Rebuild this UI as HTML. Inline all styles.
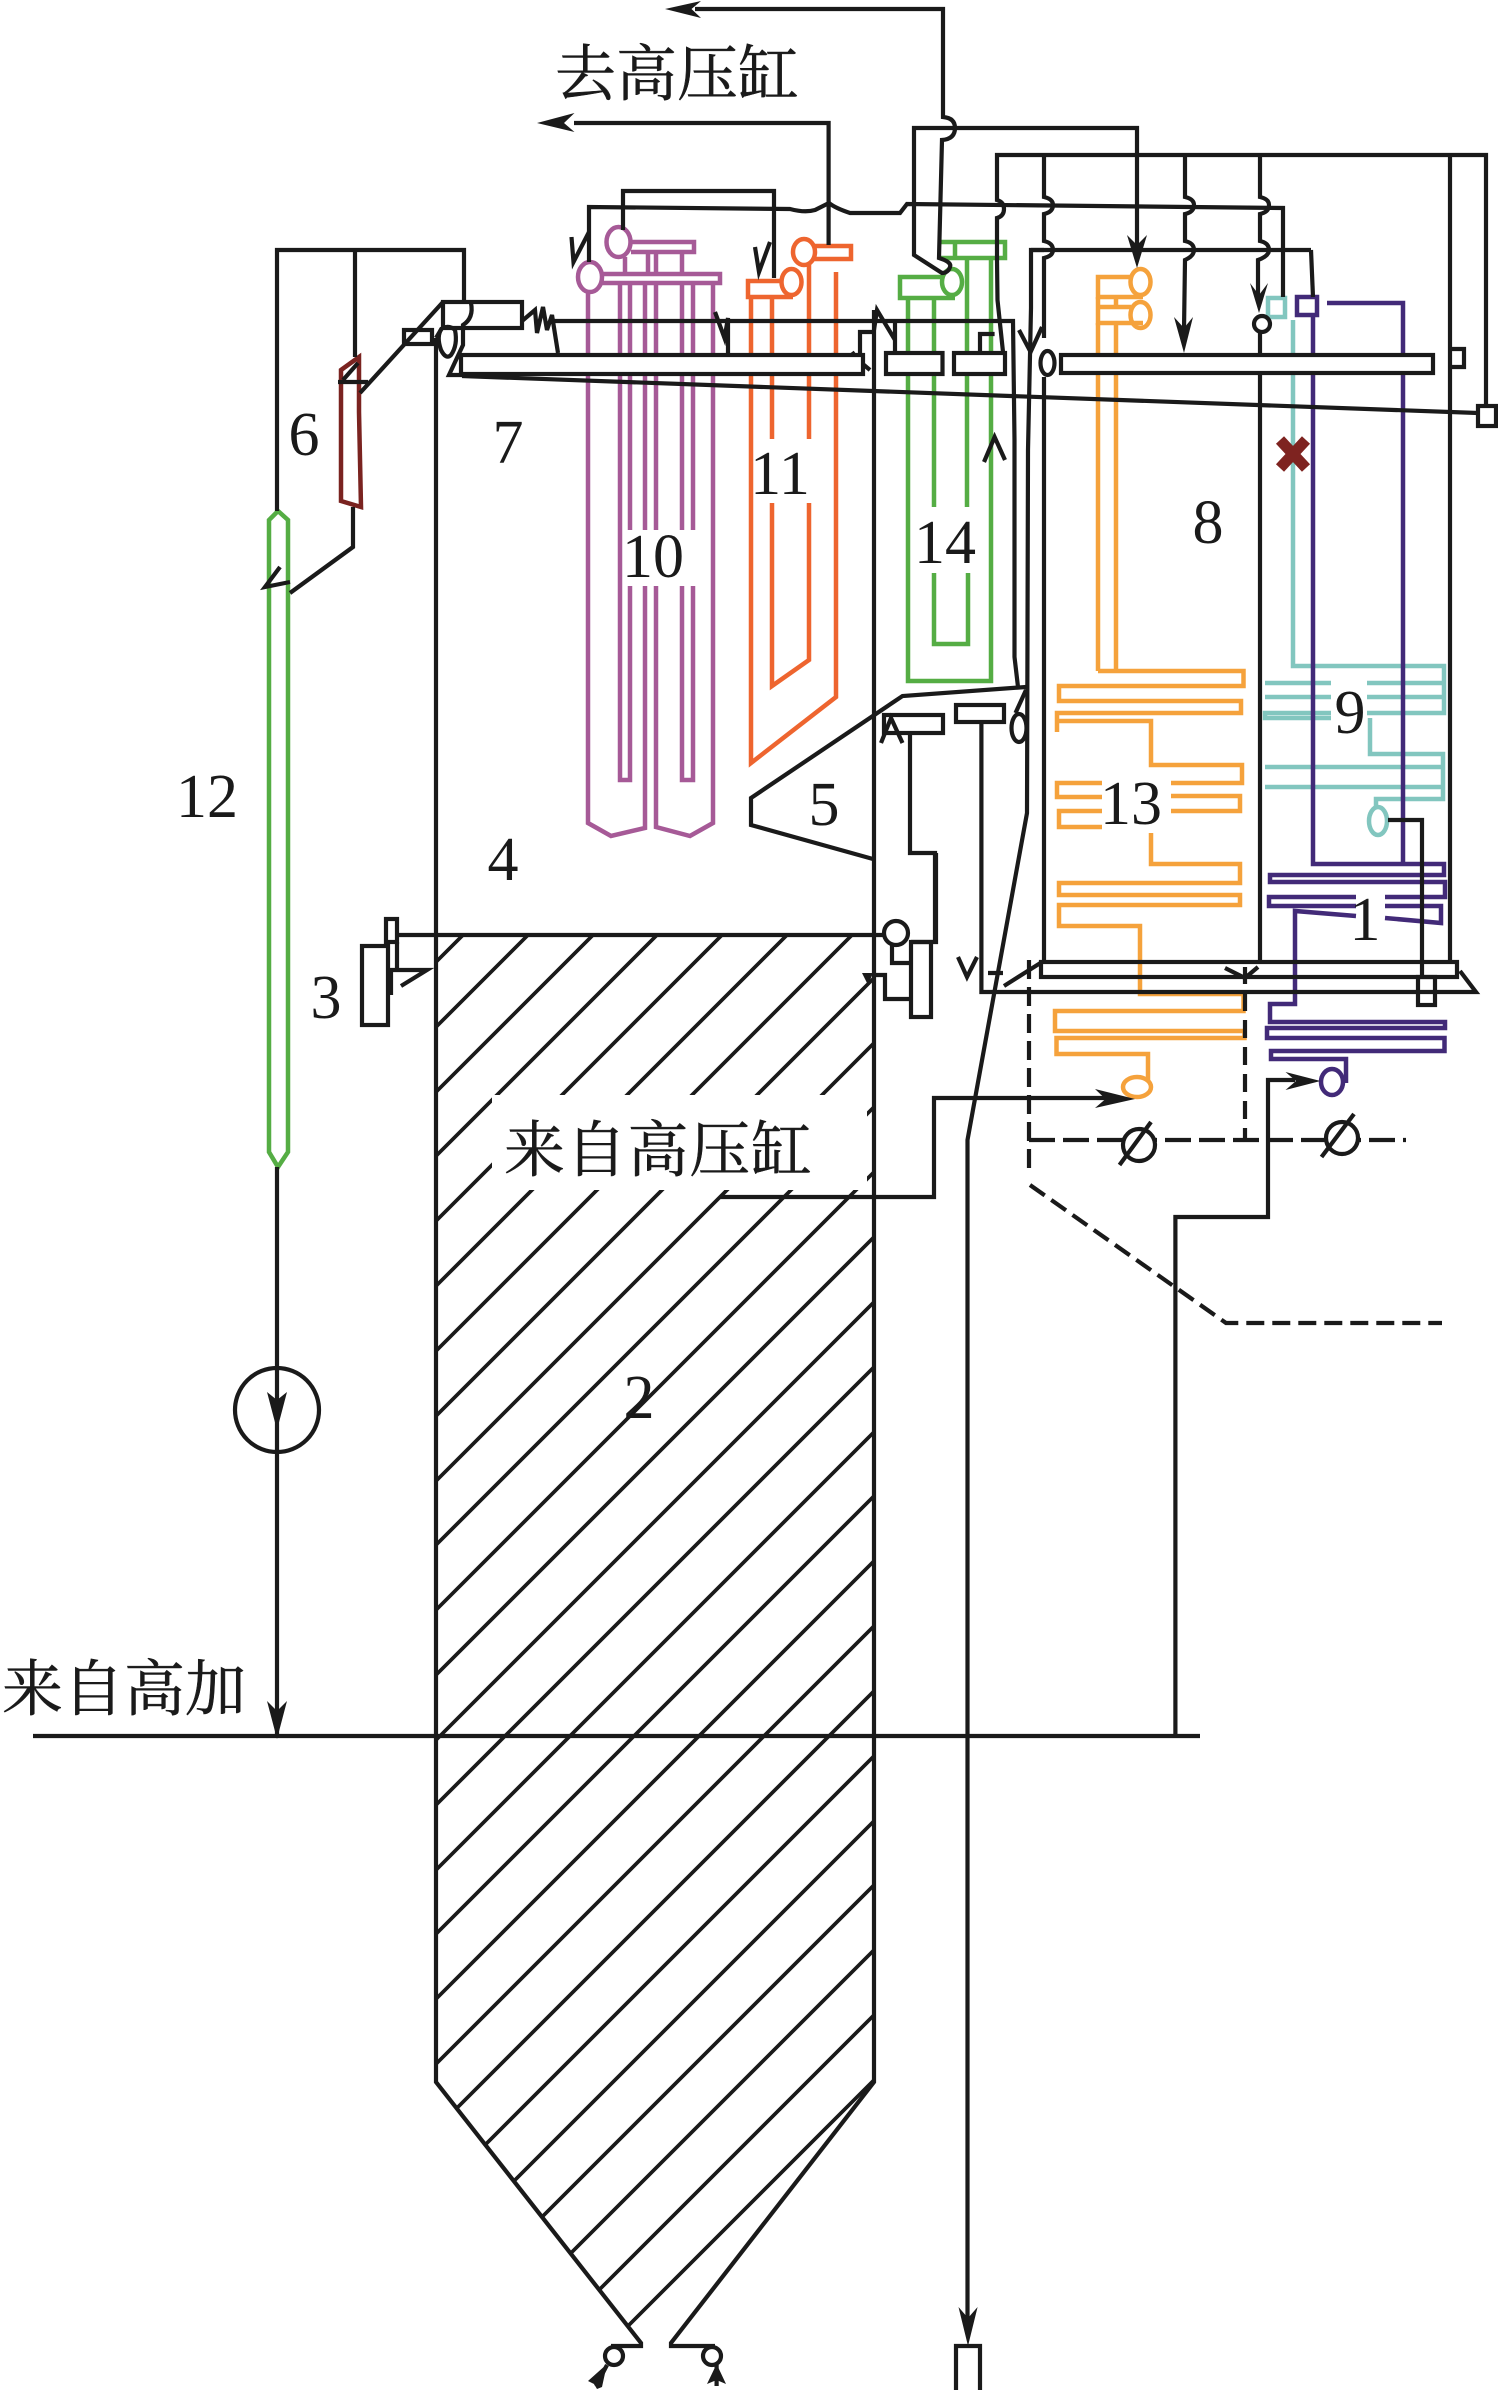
<!DOCTYPE html>
<html><head><meta charset="utf-8"><style>
html,body{margin:0;padding:0;background:#fff;width:1498px;height:2392px;overflow:hidden}
svg{display:block}
.d{font-family:"Liberation Serif",serif;font-size:62px;fill:#1a1a1a;text-anchor:middle}
.c{font-family:"Liberation Serif","Noto Serif CJK SC",serif;font-size:61px;line-height:1;fill:#1a1a1a;stroke:#1a1a1a;stroke-width:.5}
</style></head><body>
<svg xmlns="http://www.w3.org/2000/svg" width="1498" height="2392" viewBox="0 0 1498 2392" style="overflow:hidden">
<defs><clipPath id="h"><polygon points="436,935 874,935 874,2082 641,2343 436,2082"/></clipPath></defs>

<!-- hatching -->
<g clip-path="url(#h)" stroke="#1a1a1a" stroke-width="3.7" fill="none">
<path d="M436 962L874 524M436 1027L874 589M436 1092L874 654M436 1156L874 718M436 1221L874 783M436 1286L874 848M436 1351L874 913M436 1416L874 978M436 1481L874 1043M436 1545L874 1107M436 1610L874 1172M436 1675L874 1237M436 1740L874 1302M436 1805L874 1367M436 1870L874 1432M436 1934L874 1496M436 1999L874 1561M436 2064L874 1626M436 2129L874 1691M436 2194L874 1756M436 2259L874 1821M436 2323L874 1885M436 2388L874 1950M436 2453L874 2015M436 2518L874 2080"/>
</g>
<rect x="492" y="1095" width="375" height="95" fill="#fff"/>

<!-- coloured tubes -->
<g fill="none" stroke-width="4.5">
<!-- purple 10 -->
<g stroke="#a65a97">
<ellipse cx="618.5" cy="242" rx="12" ry="15"/>
<path d="M631 242H694V252H631"/>
<ellipse cx="590" cy="277" rx="12" ry="15"/>
<path d="M602 274H720V283H602"/>
<path d="M625 257V274M648 252V274M656 252V274M682 252V274"/>
<path d="M588 292V823L611 836L645 828V586M645 283V530"/>
<path d="M620 283V780H630V586M630 283V530"/>
<path d="M656 283V530M656 586V827L690 836L713 823V283"/>
<path d="M682 283V530M682 586V780H693V586M693 283V530"/>
</g>
<!-- orange 11 -->
<g stroke="#ee652f">
<ellipse cx="791.5" cy="282" rx="10" ry="13"/>
<path d="M782 281H748V297H793"/>
<ellipse cx="804" cy="252" rx="11" ry="13"/>
<path d="M814 246H851V259H814"/>
<path d="M751 298V763L836 697V272"/>
<path d="M772 298V439M772 503V686L809 660V503M809 264V439"/>
</g>
<!-- green 14 -->
<g stroke="#55ad44">
<ellipse cx="952" cy="282" rx="10" ry="13"/>
<path d="M943 277H900V298H955"/>
<path d="M940 242H1005V258H940M955 242V258"/>
<path d="M908 298V681H991V258"/>
<path d="M934 298V507M967 258V507M934 573V644H968V573"/>
<!-- 12 pod -->
<path d="M269 1152V520L278 511L288 520V1152L278 1167Z"/>
</g>
<!-- dark red 6 -->
<path d="M341 370L359 357V412L361 507L341 501Z" stroke="#7a2320"/>
<!-- yellow-orange 8 / 13 -->
<g stroke="#f5a23c">
<ellipse cx="1140.5" cy="282" rx="10" ry="13"/>
<ellipse cx="1140.5" cy="315" rx="10" ry="13"/>
<path d="M1131 277H1098V297H1143"/>
<path d="M1098 297V307H1131M1098 307V323H1143M1116 297V307"/>
<path d="M1098 323V671M1116 323V671"/>
<path d="M1098 671H1243.5V686H1059V701H1241V713H1057V732"/>
<path d="M1057 721H1151V765H1242V783H1171M1171 796H1240V811H1171"/>
<path d="M1102 783H1057V797H1102M1102 811H1059V827H1102"/>
<path d="M1151 833V864H1240V883H1059V895H1240V905H1059V926H1140V994H1243.5V1011H1055V1031H1244.5V1038H1056.5V1054H1148V1082"/>
<ellipse cx="1137" cy="1087" rx="14" ry="10"/>
</g>
<!-- teal 9 -->
<g stroke="#82c6bf">
<rect x="1268" y="298" width="17" height="19"/>
<path d="M1293 320V666H1444V713H1367M1367 697H1444M1367 683H1444"/>
<path d="M1265 683H1331M1265 697H1331M1331 713H1265V718H1331"/>
<path d="M1370 718V754H1443V799H1376V808M1265 767H1443M1265 787H1443"/>
<ellipse cx="1378" cy="821" rx="9" ry="14"/>
</g>
<!-- indigo 1 -->
<g stroke="#422a78">
<rect x="1297" y="297" width="20" height="18"/>
<path d="M1327 303H1403V864M1313 315V864H1444V875H1270V882H1445V897H1385"/>
<path d="M1356 897H1269V906H1356M1385 906H1441V923L1385 918"/>
<path d="M1356 916L1295 911V1004H1270V1022H1445V1028H1267V1038H1444.5V1051H1271V1059H1346V1083"/>
<ellipse cx="1332" cy="1082" rx="11" ry="13"/>
</g>
</g>

<!-- red cross -->
<path d="M1280 440L1306 468M1306 440L1280 468" stroke="#7e2320" stroke-width="11" fill="none"/>

<!-- black lines -->
<g fill="none" stroke="#1a1a1a" stroke-width="4.2">
<path d="M436 338V2082L641 2343V2346H611"/>
<path d="M874 310V2082L671 2343V2346H715"/>
<path d="M436 338L442 328"/>
<!-- bottom nozzles -->
<circle cx="614" cy="2356" r="9"/><circle cx="712" cy="2356" r="9"/>
<path d="M596 2386L607 2365M716.6 2386V2365"/>
<!-- left pump & 12 -->
<path d="M277 511V250H464V302M355 250V357"/>
<path d="M277 1167V1736"/>
<circle cx="277" cy="1410" r="42"/>
<path d="M33 1736H1200"/>
<path d="M353 507V547L290 593M338 382H368M343 380L358 363M360 393L443 302"/>
<path d="M280 567L265 587L290 582"/>
<rect x="404" y="330" width="28" height="14"/>
<rect x="443" y="302" width="79" height="26"/>
<path d="M471 303Q474 318 463 325V345L449 375H463"/>
<path d="M442 328Q436 336 441 350Q446 360 451 355Q458 345 455 330Q450 325 442 328"/>
<!-- slant line -->
<path d="M462 376L1478 413"/>
<rect x="1478" y="406" width="18" height="20"/>
<path d="M1486 406V155H997V200Q1004 202 1004 209Q1004 216 997 218V260L997.5 300L1003 352"/>
<path d="M1044 155V197Q1053 199 1053 205Q1053 212 1044 214V241Q1053 243 1053 250Q1053 256 1044 258V300L1044 338"/>
<path d="M1185 155V197Q1194 199 1194 205Q1194 212 1185 214V241Q1194 243 1194 250Q1194 256 1185 260L1184 330"/>
<path d="M1260 155V197Q1269 199 1269 205Q1269 212 1260 214V241Q1269 243 1269 250Q1269 256 1258 260L1258 300"/>
<path d="M1450 155V962M1450 349H1464V367H1450"/>
<!-- line across 207 -->
<path d="M589 262V207L790 209Q805 213 815 210Q825 205 829 203Q835 208 850 213H900L907 204L1283 208V297"/>
<path d="M623 230V191H774V278"/>
<path d="M828.6 245V123H574"/>
<path d="M695 9H943V117Q955 118 955 128Q955 139 942 140L939 258Q952 262 950 267Q948 273 942 273L914 255V128H1137V245"/>
<path d="M1311 250H1031V308L1028 450L1027 813L967.5 1140V2320"/>
<path d="M1031 250H1044"/>
<path d="M1311 250L1313 297"/>
<!-- top header horizontals -->
<path d="M522 321L535 310L537 333L543 307L547 330L552 315L558 353"/>
<path d="M552 321H1013L1014.5 440V657L1018 687"/>
<path d="M715 312L724.5 338L728 318V354"/>
<path d="M571.5 237L573.5 262L589 232M755 247L759 272L770 242"/>
<path d="M860 373V332H874M874 330L877 310L895 340M895 320V353"/>
<path d="M852 352L858 360L870 370"/>
<path d="M980 353V334H994.6M984 462L994.6 437L1005 460"/>
<path d="M1019 330L1030.6 352L1042 327"/>
<ellipse cx="1047.5" cy="363" rx="7" ry="12"/>
<path d="M1044 377V962"/>
<path d="M1260 332V962"/>
<circle cx="1262" cy="324" r="8"/>
<!-- 5 hopper -->
<path d="M873 859L751 825V798L902.5 696L1026 687"/>
<ellipse cx="1019" cy="728" rx="7.5" ry="14"/>
<path d="M1015.5 713L1026 690"/>
<rect x="884" y="715" width="59" height="18"/>
<rect x="956" y="705" width="48" height="17"/>
<path d="M881 743L891 718L902.5 743"/>
<path d="M910 733V853H935V941"/>
<path d="M981.4 722V992H1476L1460 971"/>
<rect x="1041" y="962" width="416" height="15"/>
<path d="M958 957L967 977L977 957M988 973H1003M1004 986L1042 962"/>
<path d="M1225 968L1245 978L1258 967M1245 967V984"/>
<!-- left/right burners -->
<rect x="362" y="946" width="26" height="79"/>
<rect x="386" y="919" width="11" height="23"/>
<path d="M397 942V970M391 995V970H427L401 986"/>
<path d="M397 935H884"/>
<circle cx="896" cy="933" r="12"/>
<path d="M892 944V963H913"/>
<rect x="911" y="942" width="20" height="75"/>
<path d="M911 942H936V853"/>
<path d="M874 975H885V999H911"/>
<!-- outlet tube to teal ellipse -->
<path d="M1388 820H1422V977"/>
<rect x="1418" y="977" width="17" height="28"/>
<!-- dashed -->
<path d="M1029 960V1175" stroke-dasharray="19 8"/>
<path d="M1029 1140H1406" stroke-dasharray="26 8"/>
<path d="M1245 993V1138" stroke-dasharray="18 9"/>
<path d="M1030 1185L1226 1323H1442" stroke-dasharray="18 8"/>
<circle cx="1139" cy="1145" r="16" fill="#fff"/>
<path d="M1119.5 1165L1151 1122"/>
<circle cx="1342" cy="1138" r="16" fill="#fff"/>
<path d="M1321.5 1157L1354 1114"/>
<!-- horizontal feed lines -->
<path d="M720 1197H934V1098H1110"/>
<path d="M1175.4 1736V1217H1268V1080H1295"/>
<!-- bottom box -->
<path d="M956 2390V2346H980V2390"/>
</g>

<!-- white-filled bars over tubes -->
<g fill="#fff" stroke="#1a1a1a" stroke-width="4.2">
<rect x="461" y="355" width="402" height="19"/>
<rect x="886" y="353" width="56.5" height="21"/>
<rect x="954" y="353" width="51" height="21"/>
<rect x="1061" y="355" width="372" height="18"/>
</g>

<!-- arrowheads -->
<g fill="#1a1a1a">
<polygon points="665,9 701,1 691.5,9 701,18"/>
<polygon points="537,123 574.5,113 564,123 574.5,132"/>
<polygon points="1137,268 1127,235 1137,245 1147,235"/>
<polygon points="1184,353 1174,317 1184,328 1193,317"/>
<polygon points="1259,313 1250,283 1259,295 1268,283"/>
<polygon points="277,1430 267,1392 277,1400 287,1392"/>
<polygon points="277,1739 267,1701 277,1711 287,1701"/>
<polygon points="968,2346 958.5,2307 968,2318 977.6,2307"/>
<polygon points="1135,1099 1095,1089 1105.5,1099 1095,1108"/>
<polygon points="1320.5,1081 1285.5,1072 1296,1081 1285.5,1090"/>
<polygon points="873,973 862,973 868,985"/>
<polygon points="607,2364 588,2381 594,2384 597,2389 602,2387"/>
<polygon points="716.6,2364 707,2384 716.6,2380 726,2384"/>
</g>

<!-- digits -->
<text class="d" x="304" y="455">6</text>
<text class="d" x="508" y="463">7</text>
<text class="d" x="653" y="577">10</text>
<text class="d" x="780" y="494">11</text>
<text class="d" x="945" y="563">14</text>
<text class="d" x="1208" y="543">8</text>
<text class="d" x="1350" y="733">9</text>
<text class="d" x="1131" y="824">13</text>
<text class="d" x="824" y="825">5</text>
<text class="d" x="1365" y="940">1</text>
<text class="d" x="207" y="817">12</text>
<text class="d" x="503" y="880">4</text>
<text class="d" x="326" y="1018">3</text>
<text class="d" x="639" y="1418">2</text>

<!-- Chinese labels -->
<text class="c" x="555" y="95">去高压缸</text>
<text class="c" x="504" y="1171" textLength="308" lengthAdjust="spacing">来自高压缸</text>
<text class="c" x="2" y="1710">来自高加</text>
</svg>
</body></html>
